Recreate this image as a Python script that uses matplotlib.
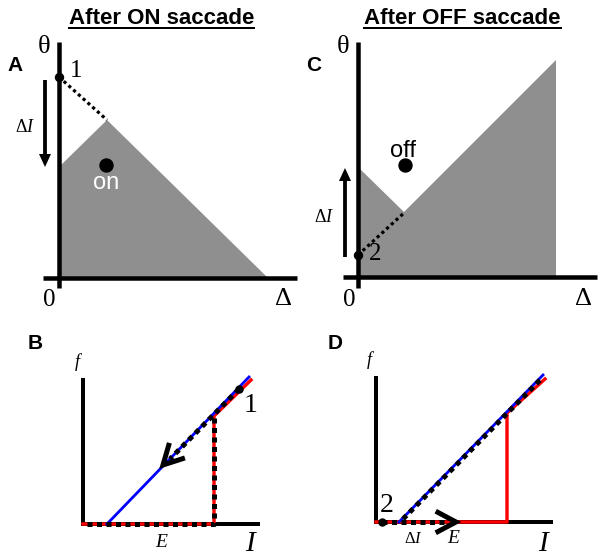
import matplotlib
matplotlib.use('Agg')
import matplotlib.pyplot as plt
import numpy as np

plt.rcParams['mathtext.fontset'] = 'custom'
plt.rcParams['mathtext.it'] = 'Liberation Serif:italic'
plt.rcParams['mathtext.rm'] = 'Liberation Serif'

# canvas in pixels (y downwards), every mark below is placed in these units
W, H = 601, 557
SANS = 'Liberation Sans'
SERIF = 'Liberation Serif'
GRAY = '#8f8f8f'

# ---- panel A: theta/Delta plane after ON saccade
a_vaxis_x, a_vaxis_y = [59, 59], [42, 288]
a_haxis_x, a_haxis_y = [43, 297], [278, 278]
a_shade_x = [60, 107, 268, 60]
a_shade_y = [166, 120, 278, 278]
a_path_x, a_path_y = [59, 107], [77, 120]
a_point1 = (59, 77)
a_on = (106, 165)
a_arrow = (45, 80, 167)          # x, y start, y end

# ---- panel C: theta/Delta plane after OFF saccade
c_vaxis_x, c_vaxis_y = [358, 358], [42, 288]
c_haxis_x, c_haxis_y = [343, 597], [277, 277]
c_shade_x = [359, 404, 556, 556, 359]
c_shade_y = [168, 212, 60, 277, 277]
c_path_x, c_path_y = [358, 405], [255, 212]
c_point2 = (358, 255)
c_off = (405, 165)
c_arrow = (345, 257, 168)

# ---- panel B: f-I curve, ON
b_vaxis_x, b_vaxis_y = [83, 83], [378, 525]
b_haxis_x, b_haxis_y = [81, 260], [524, 524]
b_blue_x, b_blue_y = [107, 249], [524, 377]
b_red_x = [83, 214, 214, 251]
b_red_y = [524, 524, 416, 380]
b_dots1_x, b_dots1_y = [239, 170], [389, 459]
b_dots2_x = [214, 214, 86]
b_dots2_y = [418, 524, 524]
b_point1 = (239, 389)
b_head = (163, 465)
b_head_back = (1, -1.03)

# ---- panel D: f-I curve, OFF
d_vaxis_x, d_vaxis_y = [376, 376], [376, 524]
d_haxis_x, d_haxis_y = [376, 553], [522, 522]
d_blue_x, d_blue_y = [399, 543], [522, 375]
d_red_x = [376, 507, 507, 545]
d_red_y = [522, 522, 413, 379]
d_dots1_x, d_dots1_y = [403, 540], [519, 380]
d_dots2_x, d_dots2_y = [382, 447], [522, 522]
d_point2 = (382, 522)
d_head = (456, 522)
d_head_back = (-1, 0)

fig = plt.figure(figsize=(W / 100, H / 100), dpi=100)
ax = fig.add_axes([0, 0, 1, 1])
ax.set_xlim(0, W)
ax.set_ylim(H, 0)
ax.axis('off')


def px(v):
    return v * 0.72


def chevron(tip, back, length=23, half=28, lw=5):
    d = np.array(back, float)
    d /= np.linalg.norm(d)
    ends = []
    for s in (1, -1):
        a = np.radians(s * half)
        r = np.array([d[0] * np.cos(a) - d[1] * np.sin(a),
                      d[0] * np.sin(a) + d[1] * np.cos(a)])
        ends.append(np.array(tip) + length * r)
    xs = [ends[0][0], tip[0], ends[1][0]]
    ys = [ends[0][1], tip[1], ends[1][1]]
    ax.plot(xs, ys, color='k', lw=px(lw), solid_capstyle='butt',
            solid_joinstyle='miter', zorder=6)


def txt(x, y, s, size, family=SERIF, **kw):
    ax.text(x, y, s, fontsize=size, family=family, ha='center',
            va='baseline', **kw)


# top panels
for sx, sy in [(a_shade_x, a_shade_y), (c_shade_x, c_shade_y)]:
    ax.fill(sx, sy, color=GRAY, lw=0, zorder=1)
for vx, vy, hx, hy in [(a_vaxis_x, a_vaxis_y, a_haxis_x, a_haxis_y),
                       (c_vaxis_x, c_vaxis_y, c_haxis_x, c_haxis_y)]:
    ax.plot(vx, vy, color='k', lw=px(4.5), solid_capstyle='butt', zorder=3)
    ax.plot(hx, hy, color='k', lw=px(4.5), solid_capstyle='butt', zorder=3)

ax.plot(a_path_x, a_path_y, color='k', lw=px(3.2), ls=(0, (1, 1)),
        dash_capstyle='butt', zorder=4)
ax.plot(c_path_x, c_path_y, color='k', lw=px(3.2), ls=(0, (1, 1)),
        dash_capstyle='butt', zorder=4)
for p in (a_point1, c_point2):
    ax.plot(*p, 'o', color='k', ms=px(8), zorder=5)
for p in (a_on, c_off):
    ax.plot(*p, 'o', color='k', ms=px(13), zorder=5)

for x, y0, y1 in (a_arrow, c_arrow):
    ax.arrow(x, y0, 0, y1 - y0, width=3.8, head_width=12, head_length=13,
             length_includes_head=True, color='k', lw=0, zorder=4)

# bottom panels
for vx, vy, hx, hy in [(b_vaxis_x, b_vaxis_y, b_haxis_x, b_haxis_y),
                       (d_vaxis_x, d_vaxis_y, d_haxis_x, d_haxis_y)]:
    ax.plot(vx, vy, color='k', lw=px(4), solid_capstyle='butt', zorder=1)
    ax.plot(hx, hy, color='k', lw=px(4), solid_capstyle='butt', zorder=1)

ax.plot(b_red_x, b_red_y, color='#ff0000', lw=px(3.4), zorder=2)
ax.plot(d_red_x, d_red_y, color='#ff0000', lw=px(3.4), zorder=2)
ax.plot(b_blue_x, b_blue_y, color='#0000ff', lw=px(2.8), zorder=3)
ax.plot(d_blue_x, d_blue_y, color='#0000ff', lw=px(2.8), zorder=3)

for xs, ys in [(b_dots1_x, b_dots1_y), (b_dots2_x, b_dots2_y),
               (d_dots1_x, d_dots1_y), (d_dots2_x, d_dots2_y)]:
    ax.plot(xs, ys, color='k', lw=px(5), ls=(0, (1, 0.9)),
            dash_capstyle='butt', zorder=4)
for p in (b_point1, d_point2):
    ax.plot(*p, 'o', color='k', ms=px(7), zorder=5)

chevron(b_head, b_head_back)
chevron(d_head, d_head_back)

# titles, underlined
for x, s in [(161.5, 'After ON saccade'), (462.5, 'After OFF saccade')]:
    t = ax.text(x, 24, s, fontsize=16, family=SANS, weight='bold',
                ha='center', va='baseline')
    fig.canvas.draw()
    bb = t.get_window_extent().transformed(ax.transData.inverted())
    ax.plot([bb.x0, bb.x1], [28, 28], color='k', lw=px(2), zorder=5)

# panel letters
for x, y, s in [(15, 71, 'A'), (314, 71, 'C'), (35, 349, 'B'), (335, 349, 'D')]:
    txt(x, y, s, 15, family=SANS, weight='bold')

# top panel labels
txt(44, 53, 'θ', 19)
txt(343, 53, 'θ', 19)
txt(76, 77, '1', 18)
txt(375, 260, '2', 18)
txt(49, 306, '0', 18)
txt(349, 306, '0', 18)
txt(284, 305, 'Δ', 19)
txt(583, 305, 'Δ', 19)
txt(25, 132, 'Δ$\\mathit{I}$', 13)
txt(324, 222, 'Δ$\\mathit{I}$', 13)
txt(a_on[0], 189, 'on', 17, family=SANS, color='white')
txt(c_off[0] - 2, 157, 'off', 17, family=SANS)

# bottom panel labels
txt(77, 367, 'f', 13, style='italic')
txt(369, 365, 'f', 13, style='italic')
txt(251, 412, '1', 20)
txt(387, 512, '2', 20)
txt(161, 547, 'E', 14, style='italic')
txt(453, 543, 'E', 14, style='italic')
txt(413, 543, 'Δ$\\mathit{I}$', 12)
txt(250, 551, 'I', 21, style='italic')
txt(543, 551, 'I', 21, style='italic')

fig.savefig('out.png', dpi=100)
